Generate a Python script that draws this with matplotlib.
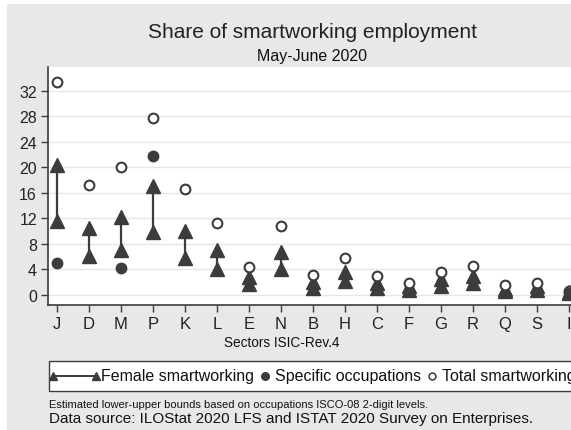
import numpy as np
from matplotlib import pyplot as plt
from matplotlib.lines import Line2D
from matplotlib.patches import Rectangle

plt.rcParams['font.family'] = ['Liberation Sans', 'DejaVu Sans']

# data
sectors = ['J', 'D', 'M', 'P', 'K', 'L', 'E', 'N', 'B', 'H', 'C', 'F', 'G', 'R', 'Q', 'S', 'I']
total_sw = [33.3, 17.2, 20.0, 27.7, 16.5, 11.3, 4.3, 10.8, 3.1, 5.8, 2.9, 1.9, 3.5, 4.5, 1.5, 1.9, 0.5]
female_up = [20.3, 10.5, 12.2, 17.0, 10.0, 7.0, 2.8, 6.7, 2.0, 3.6, 1.8, 1.4, 2.4, 3.0, 0.9, 1.3, 0.4]
female_lo = [11.6, 6.0, 7.0, 9.8, 5.8, 4.1, 1.6, 4.0, 1.1, 2.2, 1.0, 0.8, 1.4, 1.9, 0.5, 0.7, 0.2]
specific = [5.0, np.nan, 4.2, 21.8, np.nan, np.nan, np.nan, np.nan, np.nan, np.nan,
            np.nan, np.nan, np.nan, np.nan, np.nan, np.nan, 0.3]
yticks = [0, 4, 8, 12, 16, 20, 24, 28, 32]

W, H = 571, 431
dark = '#3c3c3c'
bg = '#e8e8e8'

fig = plt.figure(figsize=(W/100, H/100), dpi=100)
fig.patch.set_facecolor('white')
# grey graph region (white margin at top/left like the reference)
fig.patches.append(Rectangle((7/W, 0), 1, (H-5)/H, transform=fig.transFigure,
                             facecolor=bg, edgecolor='none', zorder=-10))

# plot region, runs past the right edge like the cropped original
ax = fig.add_axes([48/W, (H-305.7)/H, 530/W, (305.7-68)/H])
ax.set_facecolor('white')

x = np.arange(len(sectors))
ax.vlines(x, female_lo, female_up, color=dark, lw=1.6, zorder=3)
ax.plot(x, female_up, '^', color=dark, ms=9.5, zorder=4, clip_on=False)
ax.plot(x, female_lo, '^', color=dark, ms=9.5, zorder=4, clip_on=False)
ax.plot(x, total_sw, 'o', mfc='white', mec=dark, mew=1.5, ms=7, zorder=5, clip_on=False)
ax.plot(x, specific, 'o', color=dark, ms=7.5, zorder=6, clip_on=False)

ax.set_xlim(-0.28, len(sectors) - 1 + 0.28)
ax.set_ylim(-1.57, 35.7)
ax.set_xticks(x)
ax.set_xticklabels(sectors, fontsize=12)
ax.set_yticks(yticks)
ax.set_yticklabels([str(t) for t in yticks], fontsize=11.5)
ax.tick_params(axis='both', direction='out', length=5, width=1, color=dark, colors='#222222')
ax.tick_params(axis='x', pad=3)
ax.tick_params(axis='y', pad=3)
ax.grid(axis='y', color='#e6e6e6', lw=1)
ax.set_axisbelow(True)
for s in ['top', 'right']:
    ax.spines[s].set_visible(False)
for s in ['left', 'bottom']:
    ax.spines[s].set_color(dark)
    ax.spines[s].set_linewidth(1.2)

# titles
fig.text(312.5/W, 1 - 33/H, 'Share of smartworking employment', ha='center', va='center',
         fontsize=15, color='#222222')
fig.text(312/W, 1 - 57/H, 'May-June 2020', ha='center', va='center', fontsize=11.5, color='#111111')
fig.text(282/W, 1 - 343/H, 'Sectors ISIC-Rev.4', ha='center', va='center', fontsize=9.8, color='#111111')

# legend box, drawn by hand (first key has triangles at both ends)
fig.patches.append(Rectangle((49/W, 1 - 392/H), 560/W, 30/H, transform=fig.transFigure,
                             facecolor='white', edgecolor=dark, lw=1, zorder=1))
ly = 1 - 377/H
fs_leg = 11.5
fig.add_artist(Line2D([53/W, 96/W], [ly, ly], color=dark, lw=1.4, marker='^', ms=6,
                      transform=fig.transFigure, zorder=2))
fig.text(101/W, ly, 'Female smartworking', va='center', fontsize=fs_leg, color='#111111', zorder=2)
fig.add_artist(Line2D([265/W], [ly], color=dark, marker='o', ms=5.5, ls='none',
                      transform=fig.transFigure, zorder=2))
fig.text(275/W, ly, 'Specific occupations', va='center', fontsize=fs_leg, color='#111111', zorder=2)
fig.add_artist(Line2D([432/W], [ly], mfc='white', mec=dark, mew=1.1, marker='o', ms=5, ls='none',
                      transform=fig.transFigure, zorder=2))
fig.text(442/W, ly, 'Total smartworking', va='center', fontsize=fs_leg, color='#111111', zorder=2)

# notes
fig.text(49/W, 1 - 405/H, 'Estimated lower-upper bounds based on occupations ISCO-08 2-digit levels.',
         va='center', fontsize=8, color='#111111')
fig.text(49/W, 1 - 419.5/H, 'Data source: ILOStat 2020 LFS and ISTAT 2020 Survey on Enterprises.',
         va='center', fontsize=11, color='#111111')

fig.savefig('out.png', dpi=100, facecolor=fig.get_facecolor())
